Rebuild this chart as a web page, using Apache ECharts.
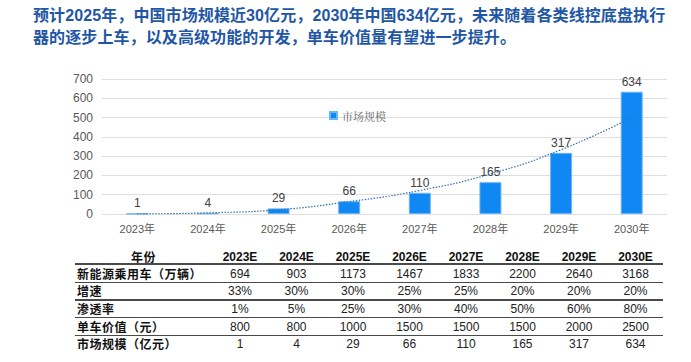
<!DOCTYPE html>
<html>
<head>
<meta charset="utf-8">
<script src="https://cdn.jsdelivr.net/npm/echarts@6/dist/echarts.min.js"></script>
<style>
  html, body { margin:0; padding:0; background:#fff; }
  #wrap { position:relative; width:691px; height:362px; overflow:hidden; background:#fff; }
  #title { position:absolute; left:33px; top:4px; font-family:"Noto Sans CJK SC", sans-serif; font-weight:bold; font-size:16px; line-height:21px; color:#1f57a4; white-space:nowrap; letter-spacing:0.1px; }
  #title .n { font-family:"Liberation Sans", Arial, sans-serif; }
  #chart { position:absolute; left:0; top:0; width:691px; height:240px; }
  .cell { position:absolute; white-space:nowrap; font-size:12px; line-height:16px; color:#222; }
  .num { font-family:"Liberation Sans", Arial, sans-serif; text-align:center; width:56px; }
  .hdr { font-weight:bold; color:#111; }
  .lab { font-family:"Noto Sans CJK SC", sans-serif; font-weight:bold; color:#111; letter-spacing:0.5px; }
  .rule { position:absolute; left:75px; width:588px; background:#4a4a4a; }
</style>
</head>
<body>
<div id="wrap">
  <div id="title">预计<span class="n">2025</span>年，中国市场规模近<span class="n">30</span>亿元，<span class="n">2030</span>年中国<span class="n">634</span>亿元，未来随着各类线控底盘执行<br>器的逐步上车，以及高级功能的开发，单车价值量有望进一步提升。</div>
  <div id="chart"></div>
  <div id="table"></div>
</div>
<script>
// ---- data ----
const years = ['2023年','2024年','2025年','2026年','2027年','2028年','2029年','2030年'];
const marketSize = [1, 4, 29, 66, 110, 165, 317, 634];
const trendValues = [0, 6, 22, 64, 122, 208, 333, 500];
const yTicks = [0, 100, 200, 300, 400, 500, 600, 700];

const tableYears = ['2023E','2024E','2025E','2026E','2027E','2028E','2029E','2030E'];
const headerLabel = '年份';
const rowLabels = ['新能源乘用车（万辆）','增速','渗透率','单车价值（元）','市场规模（亿元）'];
const nevSales = ['694','903','1173','1467','1833','2200','2640','3168'];
const growthRate = ['33%','30%','30%','25%','25%','20%','20%','20%'];
const penetration = ['1%','5%','25%','30%','40%','50%','60%','80%'];
const unitValue = ['800','800','1000','1500','1500','1500','2000','2500'];
const marketRow = ['1','4','29','66','110','165','317','634'];

// ---- chart ----
const chart = echarts.init(document.getElementById('chart'), null, {renderer:'svg'});
chart.setOption({
  animation:false,
  grid:{left:102, right:24, top:79, bottom:26},
  legend:{
    data:['市场规模'], left:324, top:105, itemWidth:7, itemHeight:7, itemGap:4,
    icon:'rect',
    textStyle:{color:'#666', fontSize:11, fontFamily:'"Noto Serif CJK SC","Noto Sans CJK SC",serif'}
  },
  xAxis:{
    type:'category', data:years,
    axisLine:{show:false}, axisTick:{show:false},
    axisLabel:{color:'#595959', fontSize:11, margin:9, fontFamily:'"Liberation Sans", Arial, "Noto Sans CJK SC", sans-serif'}
  },
  yAxis:{
    type:'value', min:yTicks[0], max:yTicks[yTicks.length-1], interval:100,
    axisLine:{show:false}, axisTick:{show:false},
    axisLabel:{color:'#595959', fontSize:12, margin:9, fontFamily:'"Liberation Sans", Arial, sans-serif'},
    splitLine:{lineStyle:{color:'#dedede', width:1}}
  },
  series:[
    {
      name:'市场规模', type:'bar', data:marketSize, barWidth:22,
      itemStyle:{color:'#1088f4', borderColor:'#6bb4f6', borderWidth:1},
      label:{show:true, position:'top', distance:4, color:'#404040', fontSize:12, fontFamily:'"Liberation Sans", Arial, sans-serif'}
    },
    {
      name:'趋势', type:'line', data:trendValues, smooth:true, symbol:'none',
      lineStyle:{color:'#2f6fb5', width:1.2, type:[1.5,1.5]}, z:5
    }
  ]
});

// ---- table ----
const table = document.getElementById('table');
const colCenters = tableYears.map((_, i) => 240 + i * 56.5);
const rowCenters = [257, 273.5, 291, 308.5, 326.5, 344];
const ruleYs = [[263, 2], [281.5, 1.5], [299, 1.5], [316.5, 1.5], [334.5, 1.5]];
function addCell(text, cls, x, yc, center) {
  const d = document.createElement('div');
  d.className = 'cell ' + cls;
  d.textContent = text;
  d.style.top = (yc - 8) + 'px';
  d.style.left = (center ? x - 28 : x) + 'px';
  table.appendChild(d);
}
addCell(headerLabel, 'lab', 131, rowCenters[0], false);
tableYears.forEach((t, i) => addCell(t, 'num hdr', colCenters[i], rowCenters[0], true));
const rows = [nevSales, growthRate, penetration, unitValue, marketRow];
rows.forEach((r, ri) => {
  addCell(rowLabels[ri], 'lab', 77, rowCenters[ri + 1], false);
  r.forEach((v, i) => addCell(v, 'num', colCenters[i], rowCenters[ri + 1], true));
});
ruleYs.forEach(([y, h]) => {
  const d = document.createElement('div');
  d.className = 'rule';
  d.style.top = y + 'px';
  d.style.height = h + 'px';
  table.appendChild(d);
});
</script>
</body>
</html>
